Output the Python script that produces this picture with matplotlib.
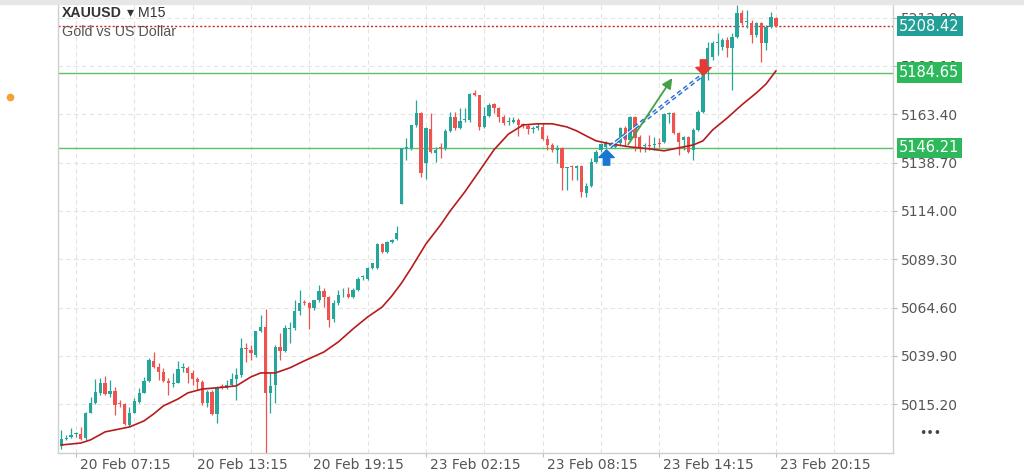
import numpy as np
import matplotlib
matplotlib.use("Agg")
import matplotlib.pyplot as plt
from matplotlib.path import Path
from matplotlib.patches import Rectangle
from matplotlib.lines import Line2D
from matplotlib.transforms import ScaledTranslation


# XAUUSD M15 candles (index = bar number)
OPENS = [
    4993.9, 4997.7, 4998.5, 4999.8, 5000.0, 4998.0, 5010.8, 5015.9, 5021.0, 5026.1,
    5020.5, 5022.0, 5015.9, 5015.4, 5004.6, 5010.8, 5016.4, 5021.0, 5027.1, 5037.3,
    5034.3, 5031.7, 5027.1, 5025.8, 5026.1, 5033.5, 5033.8, 5031.2, 5028.1, 5026.6,
    5015.9, 5021.5, 5010.2, 5024.3, 5023.5, 5025.1, 5028.1, 5030.2, 5043.7, 5043.0,
    5040.4, 5052.7, 5054.7, 5021.0, 5025.1, 5044.5, 5042.4, 5053.9, 5054.2, 5062.9,
    5067.2, 5067.0, 5064.4, 5068.5, 5073.1, 5070.0, 5058.8, 5067.0, 5071.8, 5071.6,
    5070.0, 5073.6, 5080.0, 5079.2, 5084.9, 5084.9, 5097.1, 5093.0, 5098.1, 5099.7,
    5117.6, 5145.9, 5146.2, 5157.9, 5164.1, 5138.5, 5155.9, 5143.6, 5146.4, 5146.2,
    5154.9, 5162.0, 5156.4, 5160.2, 5160.5, 5174.3, 5173.3, 5156.9, 5162.5, 5168.7,
    5166.6, 5162.0, 5159.2, 5159.5, 5160.5, 5158.2, 5157.4, 5155.9, 5156.4, 5156.9,
    5150.8, 5147.7, 5145.2, 5146.2, 5135.7, 5136.7, 5136.0, 5137.0, 5123.2, 5126.8,
    5139.0, 5145.2, 5146.7, 5147.5, 5146.7, 5148.7, 5156.4, 5150.3, 5162.0, 5151.8,
    5147.0, 5147.7, 5147.9, 5148.4, 5149.2, 5163.5, 5164.1, 5153.8, 5150.3, 5151.8,
    5145.2, 5155.4, 5164.6, 5186.0, 5192.7, 5199.6, 5197.8, 5201.4, 5197.3, 5202.9,
    5215.2, 5210.3, 5210.0, 5203.9, 5210.0, 5199.8, 5208.0, 5212.6,
]
HIGHS = [
    5002.1, 4999.5, 5003.1, 5000.8, 5003.6, 5011.3, 5018.9, 5028.1, 5028.6, 5029.7,
    5027.6, 5024.0, 5017.4, 5015.9, 5013.8, 5018.4, 5023.5, 5029.2, 5038.9, 5041.9,
    5036.3, 5033.8, 5028.6, 5031.2, 5037.3, 5036.3, 5034.8, 5032.7, 5029.2, 5027.6,
    5022.5, 5022.5, 5024.6, 5025.6, 5027.6, 5031.2, 5033.8, 5049.1, 5046.5, 5045.5,
    5052.7, 5060.8, 5063.9, 5031.2, 5045.5, 5051.6, 5055.7, 5057.3, 5068.5, 5073.6,
    5068.5, 5067.5, 5068.5, 5076.2, 5074.6, 5070.5, 5068.5, 5073.6, 5074.6, 5075.1,
    5074.6, 5080.3, 5081.3, 5085.4, 5087.4, 5097.6, 5097.6, 5098.6, 5099.7, 5106.3,
    5146.2, 5151.3, 5157.9, 5170.7, 5164.6, 5156.9, 5164.1, 5146.7, 5148.7, 5155.9,
    5164.6, 5164.6, 5166.6, 5166.6, 5174.3, 5175.8, 5173.3, 5167.1, 5169.2, 5169.2,
    5167.1, 5163.0, 5162.0, 5162.0, 5161.5, 5158.9, 5158.4, 5157.4, 5158.9, 5158.9,
    5152.8, 5148.7, 5147.7, 5146.7, 5136.5, 5137.5, 5137.5, 5137.5, 5128.3, 5141.1,
    5145.2, 5148.7, 5149.8, 5149.2, 5150.3, 5156.9, 5157.4, 5162.5, 5162.5, 5152.8,
    5148.7, 5152.8, 5151.8, 5151.3, 5164.1, 5164.6, 5164.6, 5154.3, 5152.3, 5152.3,
    5156.4, 5165.6, 5187.1, 5200.3, 5200.9, 5204.9, 5202.4, 5202.9, 5204.9, 5219.2,
    5216.7, 5216.7, 5211.6, 5210.6, 5210.6, 5209.0, 5215.7, 5213.1,
]
LOWS = [
    4992.4, 4997.0, 4998.0, 4998.5, 4997.0, 4997.0, 5010.8, 5015.4, 5020.0, 5020.0,
    5018.9, 5009.7, 5013.8, 5004.6, 5004.1, 5010.8, 5015.9, 5021.0, 5026.6, 5033.8,
    5027.6, 5026.6, 5020.0, 5024.0, 5026.1, 5031.7, 5026.1, 5025.1, 5022.5, 5014.8,
    5013.8, 5009.7, 5005.6, 5023.0, 5023.0, 5024.6, 5017.4, 5029.2, 5036.8, 5037.8,
    5039.4, 5052.2, 4990.5, 5010.8, 5015.9, 5037.8, 5041.9, 5046.5, 5053.2, 5060.8,
    5065.9, 5053.7, 5063.4, 5067.5, 5064.9, 5054.7, 5057.3, 5065.9, 5070.0, 5069.5,
    5069.5, 5073.1, 5078.7, 5078.7, 5084.3, 5084.3, 5092.5, 5092.5, 5097.6, 5099.2,
    5117.6, 5140.0, 5145.2, 5156.9, 5131.3, 5130.3, 5143.6, 5139.0, 5141.1, 5145.2,
    5154.3, 5155.4, 5155.9, 5159.5, 5159.5, 5172.7, 5155.4, 5156.4, 5162.0, 5164.1,
    5159.5, 5157.9, 5157.9, 5158.9, 5152.3, 5156.4, 5153.3, 5153.8, 5155.4, 5150.3,
    5145.2, 5144.1, 5138.5, 5124.7, 5124.7, 5129.8, 5129.8, 5121.1, 5121.1, 5126.2,
    5138.5, 5144.1, 5146.2, 5146.2, 5146.2, 5147.7, 5147.2, 5149.8, 5144.6, 5144.1,
    5144.1, 5145.2, 5145.2, 5146.7, 5148.7, 5158.9, 5153.3, 5142.6, 5145.2, 5143.6,
    5140.0, 5154.9, 5164.1, 5180.9, 5191.1, 5193.7, 5196.2, 5192.7, 5175.8, 5202.4,
    5209.0, 5207.5, 5199.8, 5202.9, 5190.1, 5196.2, 5207.5, 5208.0,
]
CLOSES = [
    4997.5, 4998.2, 4999.5, 5000.3, 4997.5, 5010.8, 5015.9, 5021.5, 5026.1, 5020.5,
    5022.0, 5014.8, 5015.4, 5005.1, 5010.8, 5016.9, 5021.0, 5027.1, 5037.8, 5034.3,
    5031.7, 5027.1, 5026.1, 5026.3, 5033.2, 5034.0, 5031.2, 5028.1, 5026.6, 5015.9,
    5021.5, 5010.2, 5024.0, 5023.8, 5025.1, 5028.1, 5030.2, 5044.0, 5043.2, 5041.4,
    5052.7, 5054.7, 5021.0, 5024.6, 5044.5, 5042.4, 5054.2, 5054.4, 5062.9, 5067.0,
    5066.7, 5064.4, 5068.5, 5073.1, 5070.0, 5058.3, 5067.0, 5071.1, 5072.3, 5070.0,
    5073.6, 5079.2, 5080.5, 5084.9, 5087.4, 5097.1, 5093.0, 5098.1, 5099.2, 5102.7,
    5146.2, 5146.4, 5157.9, 5164.1, 5133.4, 5156.4, 5144.1, 5145.2, 5145.9, 5154.9,
    5162.0, 5156.4, 5160.0, 5160.7, 5173.8, 5173.3, 5156.9, 5162.5, 5168.1, 5166.6,
    5162.0, 5158.9, 5159.7, 5160.5, 5157.9, 5157.7, 5155.9, 5156.4, 5157.4, 5150.8,
    5147.7, 5145.2, 5146.2, 5136.0, 5136.2, 5136.2, 5137.0, 5123.7, 5126.8, 5139.0,
    5144.1, 5148.2, 5148.7, 5148.0, 5148.7, 5156.4, 5150.3, 5162.0, 5151.3, 5146.7,
    5147.5, 5147.2, 5148.4, 5148.0, 5163.5, 5164.1, 5153.8, 5149.2, 5151.8, 5144.1,
    5155.4, 5164.6, 5186.0, 5197.3, 5199.8, 5200.1, 5201.4, 5197.3, 5202.9, 5215.2,
    5210.0, 5210.9, 5203.9, 5210.0, 5199.8, 5208.0, 5213.1, 5208.42,
]

# moving average line
MA_IDX = [0, 4, 6, 9, 12, 14, 17, 19, 21, 24, 26, 29, 32, 36, 39, 41, 44, 47, 50, 54,
          57, 60, 63, 66, 68, 70, 72, 75, 78, 80, 83, 86, 89, 92, 95, 98, 101, 104, 106, 108,
          110, 113, 117, 121, 124, 127, 130, 132, 134, 137, 140, 143, 145, 147]
MA_VAL = [4994.4, 4995.4, 4997.0, 5001.1, 5002.6, 5003.6, 5006.7, 5010.3, 5014.4, 5017.9,
          5021.0, 5023.0, 5023.6, 5024.6, 5029.2, 5031.2, 5031.2, 5033.8, 5037.4, 5041.9,
          5047.1, 5053.7, 5059.8, 5064.9, 5070.6, 5077.2, 5084.9, 5097.1, 5106.8, 5114.0,
          5123.7, 5134.4, 5145.2, 5153.3, 5157.9, 5158.5, 5158.5, 5156.9, 5154.9, 5152.3,
          5149.8, 5148.2, 5146.7, 5145.7, 5144.7, 5146.2, 5147.7, 5149.8, 5155.4, 5161.5,
          5168.2, 5174.3, 5178.9, 5185.5]

LEVELS = [5184.65, 5146.21]
LAST_PRICE = 5208.42

X_TICKS = [3, 27, 51, 75, 99, 123, 147]
X_LABELS = ["20 Feb 07:15", "20 Feb 13:15", "20 Feb 19:15", "23 Feb 02:15",
            "23 Feb 08:15", "23 Feb 14:15", "23 Feb 20:15"]
X_MINOR = [15, 39, 63, 87, 111, 135, 159]
Y_TICKS = [5015.20, 5039.90, 5064.60, 5089.30, 5114.00, 5138.70, 5163.40, 5188.10, 5212.80]

# drawn trade idea
BUY_SIGNAL = (112.0, 5141.6)
SELL_SIGNAL = (132.1, 5187.6)
TARGET_ARROW = [(116.3, 5146.8), (126.0, 5183.0)]
TRADE_LINE = [(112.9, 5146.8), (131.7, 5183.0)]

GREEN = "#26a69a"
RED = "#ef5350"
LEVEL_GREEN = "#5cbf6a"
BOX_GREEN = "#2eb85c"


def block_arrow(up=True):
    verts = [(0, 1), (1, 0), (0.42, 0), (0.42, -1), (-0.42, -1), (-0.42, 0), (-1, 0), (0, 1)]
    if not up:
        verts = [(x, -y) for x, y in verts]
    codes = [Path.MOVETO] + [Path.LINETO] * 6 + [Path.CLOSEPOLY]
    return Path(verts, codes)


def price_box(ax, value, color):
    ax.text(1.0075, value, f"{value:.2f}", transform=ax.get_yaxis_transform(),
            ha="left", va="center", color="white", fontsize=10.5,
            bbox=dict(boxstyle="square,pad=0.18", fc=color, ec="none"),
            zorder=10, clip_on=False)


def main():
    o = np.array(OPENS)
    h = np.array(HIGHS)
    l = np.array(LOWS)
    c = np.array(CLOSES)
    idx = np.arange(len(c))

    fig = plt.figure(figsize=(10.24, 4.73), dpi=100)
    ax = fig.add_axes([58 / 1024, 20 / 473, 835 / 1024, 448 / 473])
    ax.set_axisbelow(True)

    colors = [GREEN if cc >= oo else RED for oo, cc in zip(o, c)]

    # Candles
    ax.vlines(idx, l, h, colors=colors, linewidth=0.9, zorder=3)
    bottoms = np.minimum(o, c)
    heights = np.maximum(np.abs(c - o), 0.5)
    ax.bar(idx, heights, bottom=bottoms, width=0.68, color=colors, linewidth=0, zorder=3)

    # Moving average
    ax.plot(MA_IDX, MA_VAL, color="#b71c1c", linewidth=1.2, zorder=4)

    # Levels
    for lv in LEVELS:
        ax.axhline(lv, color=LEVEL_GREEN, linewidth=1.0, zorder=2)
    ax.axhline(LAST_PRICE, color="#c62828", linewidth=1.0, linestyle=(0, (1.5, 1.5)), zorder=2)

    # Trade idea
    ax.plot([p[0] for p in TRADE_LINE], [p[1] for p in TRADE_LINE],
            color="#2a6fd6", linewidth=2.8, linestyle=(0, (1.2, 0.8)), zorder=5)
    ax.plot([p[0] for p in TRADE_LINE], [p[1] for p in TRADE_LINE],
            color="white", linewidth=0.7, zorder=5)
    ax.annotate("", xy=TARGET_ARROW[1], xytext=TARGET_ARROW[0],
                arrowprops=dict(arrowstyle="-|>", color="#43a047", lw=1.3, mutation_scale=15),
                zorder=5)
    ax.plot(*BUY_SIGNAL, marker=block_arrow(True), markersize=11, color="#1976d2",
            linestyle="none", zorder=6)
    ax.plot(*SELL_SIGNAL, marker=block_arrow(False), markersize=11, color="#e53935",
            linestyle="none", zorder=6)

    # Axes
    ax.set_xlim(-0.7, 171.1)
    ax.set_ylim(4990.3, 5219.2)

    ax.yaxis.tick_right()
    ax.set_yticks(Y_TICKS)
    ax.set_yticklabels([f"{v:.2f}" for v in Y_TICKS])
    ax.tick_params(axis="y", length=3, pad=3, labelsize=10, labelcolor="#555555", color="#bbbbbb")

    ax.set_xticks(X_TICKS)
    ax.set_xticklabels(X_LABELS)
    ax.set_xticks(X_MINOR, minor=True)
    ax.tick_params(axis="x", which="major", length=3, pad=0.5, labelsize=10,
                   labelcolor="#555555", color="#bbbbbb")
    ax.tick_params(axis="x", which="minor", length=0)
    shift = ScaledTranslation(4 / 100, 0, fig.dpi_scale_trans)
    for lbl in ax.get_xticklabels():
        lbl.set_horizontalalignment("left")
        lbl.set_transform(lbl.get_transform() + shift)

    ax.grid(True, which="both", color="#e3e3e3", linestyle=(0, (4, 3)), linewidth=0.8)

    for side in ["left", "right", "bottom"]:
        ax.spines[side].set_color("#cfcfcf")
        ax.spines[side].set_linewidth(1.0)
    ax.spines["top"].set_visible(False)

    # Price labels on the axis
    price_box(ax, LAST_PRICE, "#229f96")
    for lv in LEVELS:
        price_box(ax, lv, BOX_GREEN)

    # Header text
    fam = ["Liberation Sans", "DejaVu Sans"]
    fig.text(62 / 1024, 1 - 13 / 473, "XAUUSD", fontsize=10.2, fontweight="bold",
             family=fam, color="#333333", va="center")
    fig.text(127 / 1024, 1 - 13 / 473, "\u25be M15", fontsize=10.2,
             family=fam, color="#333333", va="center")
    fig.text(62 / 1024, 1 - 32 / 473, "Gold vs US Dollar", fontsize=10.3,
             family=fam, color="#555555", va="center")

    # Decorations around the chart
    fig.patches.append(Rectangle((0, 1 - 4 / 473), 1, 4 / 473, transform=fig.transFigure,
                                 color="#e6e6e6", zorder=0))
    fig.add_artist(Line2D([10 / 1024], [1 - 97 / 473], marker="o", markersize=4.5,
                          color="#f5a031", linestyle="none", transform=fig.transFigure))
    fig.text(930 / 1024, 1 - 434 / 473, "\u2022\u2022\u2022", fontsize=9, color="#444444",
             ha="center", va="center")

    fig.savefig("out.png", dpi=100)
    plt.close(fig)


if __name__ == "__main__":
    main()
